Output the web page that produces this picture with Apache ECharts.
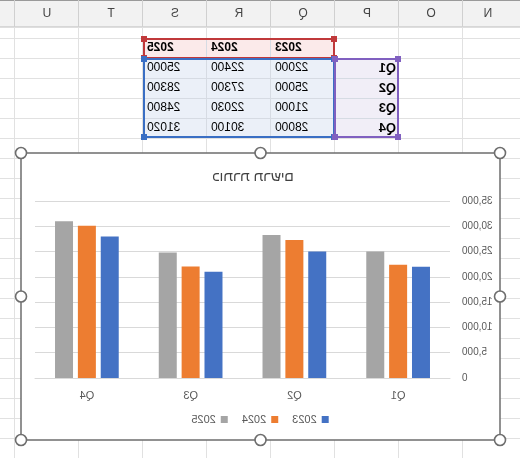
<!DOCTYPE html>
<html><head><meta charset="utf-8">
<script src="https://cdn.jsdelivr.net/npm/echarts@6/dist/echarts.min.js"></script>
<style>
html,body{margin:0;padding:0;background:#fff;}
#wrap{position:relative;width:520px;height:458px;transform:scaleX(-1);transform-origin:center;}
#bg,#fg{position:absolute;left:0;top:0;width:520px;height:458px;}
</style></head><body>
<div id="wrap"><div id="bg"></div><div id="fg"></div></div>
<script>
var categories = ['Q1','Q2','Q3','Q4'];
var seriesNames = ['2023','2024','2025'];
var v2023 = [22000,25000,21000,28000];
var v2024 = [22400,27300,22030,30100];
var v2025 = [25000,28300,24800,31020];
var colLetters = ['N','O','P','Q','R','S','T','U'];
var title = 'כותרת תרשים';
var colors = ['#4472c4','#ed7d31','#a5a5a5'];
var font = 'Liberation Sans, Noto Sans, sans-serif';

// spreadsheet layer
var g = [];
var colX = [0,57,121,185,249,313,377,441,505,520];
var hdrH = 27;
// header bg
g.push({type:'rect',shape:{x:0,y:0,width:520,height:hdrH},style:{fill:'#f2f2f2'}});
g.push({type:'line',shape:{x1:0,y1:hdrH,x2:520,y2:hdrH},style:{stroke:'#bdbdbd',lineWidth:1}});
g.push({type:'line',shape:{x1:0,y1:0.5,x2:520,y2:0.5},style:{stroke:'#9a9a9a',lineWidth:1}});
for (var i=1;i<colX.length-1;i++){
  g.push({type:'line',shape:{x1:colX[i]+0.5,y1:hdrH,x2:colX[i]+0.5,y2:458},style:{stroke:'#e1e1e1',lineWidth:1}});
  g.push({type:'line',shape:{x1:colX[i]+0.5,y1:0,x2:colX[i]+0.5,y2:hdrH},style:{stroke:'#d0d0d0',lineWidth:1}});
}
for (var i=0;i<colLetters.length;i++){
  var cx = (colX[i]+colX[i+1])/2;
  if(i===0) cx = 32;
  g.push({type:'text',x:cx,y:hdrH/2,style:{text:colLetters[i],fill:'#444',font:'12px '+font,align:'center',verticalAlign:'middle'}});
}
for (var y=38;y<458;y+=20){
  g.push({type:'line',shape:{x1:0,y1:y+0.5,x2:520,y2:y+0.5},style:{stroke:'#e1e1e1',lineWidth:1}});
}
// table fills
g.push({type:'rect',shape:{x:185,y:38,width:192,height:20},style:{fill:'#fbeaea'}});
g.push({type:'rect',shape:{x:185,y:58,width:192,height:80},style:{fill:'#ebf0f8'}});
g.push({type:'rect',shape:{x:121,y:58,width:64,height:80},style:{fill:'#f1eef7'}});
for (var y=58;y<=118;y+=20) for (var x of [185,249,313,377]) {}
for (var r=0;r<4;r++){
  var ry=58+r*20;
  if(r>0) g.push({type:'line',shape:{x1:121,y1:ry+0.5,x2:377,y2:ry+0.5},style:{stroke:'#d6dbe3'}});
}
[249,313].forEach(function(x){g.push({type:'line',shape:{x1:x+0.5,y1:38,x2:x+0.5,y2:138},style:{stroke:'#d6dbe3'}});});
// header texts
var yrs=[v2023,v2024,v2025];
for (var c=0;c<3;c++){
  g.push({type:'text',x:185+64*c+60,y:48,style:{text:seriesNames[c],fill:'#000',font:'bold 12px '+font,align:'right',verticalAlign:'middle'}});
  for (var r=0;r<4;r++){
    g.push({type:'text',x:185+64*c+60,y:68+20*r,style:{text:String(yrs[c][r]),fill:'#000',font:'12px '+font,align:'right',verticalAlign:'middle'}});
  }
}
for (var r=0;r<4;r++) g.push({type:'text',x:124,y:68+20*r,style:{text:categories[r],fill:'#000',font:'bold 13px '+font,align:'left',verticalAlign:'middle'}});
// borders
function box(x,y,w,h,col){
  g.push({type:'rect',shape:{x:x,y:y,width:w,height:h},style:{fill:'none',stroke:col,lineWidth:2}});
  [[x,y],[x+w,y],[x,y+h],[x+w,y+h]].forEach(function(p){g.push({type:'rect',shape:{x:p[0]-3,y:p[1]-3,width:6,height:6},style:{fill:col}});});
}
box(186,39,190,19,'#c0393b');
box(186,59,190,78,'#3a6fc4');
box(122,59,63,78,'#8060c0');
// chart frame
var fx=20,fy=153,fw=479,fh=287;
g.push({type:'rect',shape:{x:fx,y:fy,width:fw,height:fh},style:{fill:'#fff',stroke:'#6e6e6e',lineWidth:1.5}});
[[fx,fy],[fx+fw/2,fy],[fx+fw,fy],[fx,fy+fh/2],[fx+fw,fy+fh/2],[fx,fy+fh],[fx+fw/2,fy+fh],[fx+fw,fy+fh]].forEach(function(p){
  g.push({type:'circle',shape:{cx:p[0],cy:p[1],r:5.5},style:{fill:'#fff',stroke:'#6e6e6e',lineWidth:1.6}});
});
echarts.init(document.getElementById('bg')).setOption({animation:false,graphic:{elements:g}});

// chart layer
var chart = echarts.init(document.getElementById('fg'));
chart.setOption({
  animation:false,
  color:colors,
  title:{text:title,left:262,top:165,textAlign:'center',textStyle:{fontFamily:font,fontSize:14,fontWeight:'normal',color:'#404040'}},
  legend:{bottom:28,left:'center',itemWidth:7,itemHeight:7,itemGap:14,icon:'rect',textStyle:{fontFamily:font,fontSize:11,color:'#595959'},data:seriesNames},
  grid:{left:70,right:35,top:201,bottom:80},
  xAxis:{type:'category',data:categories,axisTick:{show:false},axisLine:{lineStyle:{color:'#d9d9d9'}},axisLabel:{fontFamily:font,fontSize:11,color:'#595959',margin:12}},
  yAxis:{type:'value',min:0,max:35000,interval:5000,axisLine:{show:false},axisTick:{show:false},splitLine:{lineStyle:{color:'#d9d9d9'}},axisLabel:{fontFamily:font,fontSize:10,color:'#595959',margin:12}},
  series:[
    {name:seriesNames[0],type:'bar',data:v2023,barWidth:18,barGap:'27%'},
    {name:seriesNames[1],type:'bar',data:v2024,barWidth:18,barGap:'27%'},
    {name:seriesNames[2],type:'bar',data:v2025,barWidth:18,barGap:'27%'}
  ]
});
</script></body></html>
